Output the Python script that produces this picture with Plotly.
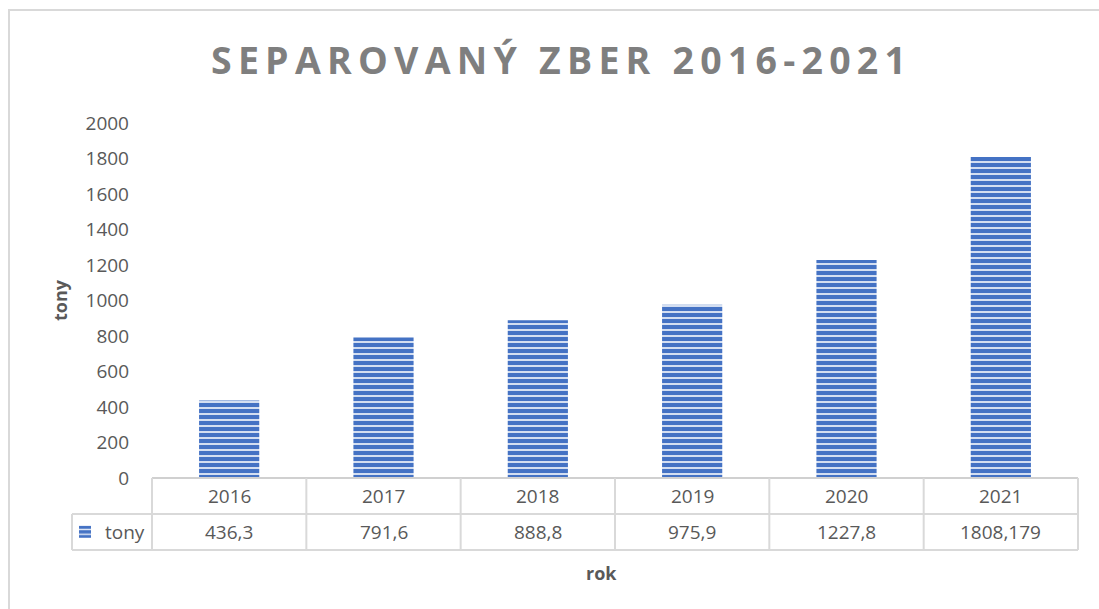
import plotly.graph_objects as go

years = ["2016", "2017", "2018", "2019", "2020", "2021"]
tony = [436.3, 791.6, 888.8, 975.9, 1227.8, 1808.179]
value_labels = ["436,3", "791,6", "888,8", "975,9", "1227,8", "1808,179"]
series_name = "tony"
title_text = "SEPAROVANÝ ZBER 2016-2021"
y_ticks = list(range(0, 2001, 200))

W, H = 1099, 609
L, R, T, B = 152, 21, 123, 131
PW, PH = W - L - R, H - T - B

def px_x(x):
    return (x - L) / PW

def px_y(y):
    return (H - B - y) / PH

GRAY = "#595959"
LINE = "#D9D9D9"
FONT = "Open Sans"

fig = go.Figure()
fig.add_trace(go.Bar(
    x=list(range(len(years))), y=tony, name=series_name,
    width=0.39,
    marker=dict(color="#4472C4", line=dict(width=0),
                pattern=dict(shape="-", bgcolor="#4472C4", fgcolor="#E4EBF7",
                             size=6, solidity=0.3, fillmode="replace")),
    showlegend=True,
))

spaced_title = "\u2009".join(list(title_text))

shapes = []
shapes.append(dict(type="rect", xref="paper", yref="paper",
                   x0=px_x(9), y0=px_y(10), x1=px_x(1115), y1=px_y(625),
                   line=dict(color=LINE, width=2), fillcolor="rgba(0,0,0,0)"))
y0 = 0
y1 = px_y(514)
y2 = px_y(550)
xl = px_x(72)
shapes.append(dict(type="line", xref="paper", yref="paper", x0=0, x1=1, y0=y0, y1=y0,
                   line=dict(color="#D0D0D0", width=2)))
for yy in (y1, y2):
    shapes.append(dict(type="line", xref="paper", yref="paper", x0=xl, x1=1, y0=yy, y1=yy,
                       line=dict(color=LINE, width=2)))
n = len(years)
for i in range(n + 1):
    shapes.append(dict(type="line", xref="paper", yref="paper", x0=i / n, x1=i / n, y0=y0, y1=y2,
                       line=dict(color=LINE, width=2)))
shapes.append(dict(type="line", xref="paper", yref="paper", x0=xl, x1=xl, y0=y1, y1=y2,
                   line=dict(color=LINE, width=2)))

annotations = []
for i, (yr, v) in enumerate(zip(years, value_labels)):
    annotations.append(dict(x=i, xref="x", y=px_y(496), yref="paper", text=yr, showarrow=False,
                            font=dict(family=FONT, size=19, color=GRAY), xanchor="center", yanchor="middle"))
    annotations.append(dict(x=i, xref="x", y=px_y(532), yref="paper", text=v, showarrow=False,
                            font=dict(family=FONT, size=19, color=GRAY), xanchor="center", yanchor="middle"))
annotations.append(dict(x=px_x(60), xref="paper", y=px_y(300), yref="paper", text="<b>tony</b>", showarrow=False,
                        textangle=-90, font=dict(family=FONT, size=18, color=GRAY), xanchor="center", yanchor="middle"))
annotations.append(dict(x=px_x(601), xref="paper", y=px_y(573), yref="paper", text="<b>rok</b>", showarrow=False,
                        font=dict(family=FONT, size=18, color=GRAY), xanchor="center", yanchor="middle"))
annotations.append(dict(x=px_x(558), xref="paper", y=px_y(59), yref="paper", text="<b>" + spaced_title + "</b>",
                        showarrow=False, font=dict(family=FONT, size=37.5, color="#7F7F7F"),
                        xanchor="center", yanchor="middle"))

fig.update_layout(
    width=W, height=H,
    margin=dict(l=L, r=R, t=T, b=B, pad=0),
    paper_bgcolor="white", plot_bgcolor="white",
    font=dict(family=FONT, color=GRAY),
    bargap=0.61,
    xaxis=dict(range=[-0.5, n - 0.5], showticklabels=False, showgrid=False, zeroline=False,
               showline=False, ticks="", fixedrange=True),
    yaxis=dict(range=[0, 2000], tickvals=y_ticks, showgrid=False, zeroline=False, showline=False,
               ticks="", tickfont=dict(family=FONT, size=19, color=GRAY), ticklabelstandoff=22),
    showlegend=True,
    legend=dict(x=px_x(65), xanchor="left", y=px_y(532), yanchor="middle", itemwidth=30,
                font=dict(family=FONT, size=19, color=GRAY), bgcolor="rgba(0,0,0,0)",
                itemclick=False, itemdoubleclick=False),
    shapes=shapes,
    annotations=annotations,
)

fig.write_html("out.html", config={"displayModeBar": False},
               post_script="document.body.style.margin='0';document.body.style.overflow='hidden';")
